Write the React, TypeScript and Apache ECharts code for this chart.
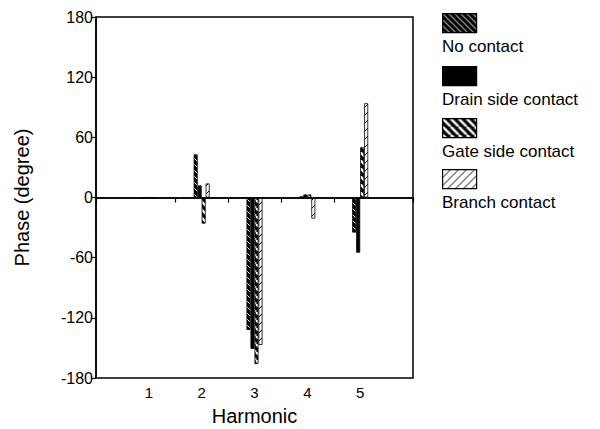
import React, { useEffect, useRef } from "react";
import * as echarts from "echarts";

const harmonics = [1, 2, 3, 4, 5];
const noContact = [0, 43, -132, 1, -35];
const drainSide = [0, 12, -151, 3, -55];
const gateSide = [0, -26, -166, 3, 50];
const branchContact = [0, 14, -147, -21, 94];
const seriesNames = ["No contact", "Drain side contact", "Gate side contact", "Branch contact"];
const xTickValues = [0, 1.5, 2.5, 3.5, 4.5, 6];
const FONT = "'Liberation Sans', Arial, Helvetica, sans-serif";

function makePattern(bg: string, fg: string, size: number, lw: number, dir: "back" | "fwd") {
  const c = document.createElement("canvas");
  c.width = size;
  c.height = size;
  const ctx = c.getContext("2d")!;
  ctx.fillStyle = bg;
  ctx.fillRect(0, 0, size, size);
  ctx.strokeStyle = fg;
  ctx.lineWidth = lw;
  for (let k = -1; k <= 1; k++) {
    ctx.beginPath();
    if (dir === "back") {
      ctx.moveTo(k * size, 0);
      ctx.lineTo(k * size + size, size);
    } else {
      ctx.moveTo(k * size, size);
      ctx.lineTo(k * size + size, 0);
    }
    ctx.stroke();
  }
  return { image: c, repeat: "repeat" as const };
}

export default function App() {
  const ref = useRef<HTMLDivElement>(null);
  useEffect(() => {
    if (!ref.current) return;
    const chart = echarts.init(ref.current, undefined, { renderer: "svg" });
    const fills = [
      makePattern("#000", "#fff", 6, 1, "back"),
      "#000",
      makePattern("#000", "#fff", 8, 2.5, "back"),
      makePattern("#fff", "#000", 8, 1, "fwd"),
    ];
    const datasets = [noContact, drainSide, gateSide, branchContact];
    const series: any[] = datasets.map((vals, i) => ({
      type: "bar",
      name: seriesNames[i],
      data: harmonics.map((h, j) => [h, vals[j]]),
      barWidth: 4,
      barGap: "0%",
      itemStyle: { color: fills[i], borderColor: "#000", borderWidth: 0.8 },
      ...(i === 0
        ? {
            markLine: {
              silent: true,
              symbol: ["none", "none"],
              label: { show: false },
              lineStyle: { color: "#000", width: 1.5, type: "solid" },
              data: [{ yAxis: 0 }],
            },
          }
        : {}),
    }));

    const legendTextY = [47, 100, 152, 203];
    const graphics: any[] = [];
    seriesNames.forEach((name, i) => {
      graphics.push({
        type: "rect",
        left: 442,
        top: legendTextY[i] - 34,
        shape: { width: 34, height: 19 },
        style: { fill: fills[i], stroke: "#000", lineWidth: 1.2 },
      });
      graphics.push({
        type: "text",
        left: 442,
        top: legendTextY[i] - 9,
        style: { text: name, fill: "#000", font: `17px ${FONT}` },
      });
    });

    chart.setOption({
      animation: false,
      backgroundColor: "#fff",
      grid: {
        left: 96,
        right: 187,
        top: 17,
        bottom: 51,
        outerBoundsMode: "none",
        containLabel: false,
        show: true,
        borderColor: "#000",
        borderWidth: 1.5,
        backgroundColor: "transparent",
      },
      xAxis: {
        type: "value",
        min: 0,
        max: 6,
        name: "Harmonic",
        nameLocation: "middle",
        nameGap: 28,
        nameTextStyle: { fontFamily: FONT, fontSize: 20, color: "#000" },
        axisLine: { show: true, lineStyle: { color: "#000", width: 1.5 } },
        axisTick: { show: true, length: 5, customValues: xTickValues, lineStyle: { color: "#000", width: 1.2 } },
        axisLabel: {
          customValues: harmonics,
          color: "#000",
          fontFamily: FONT,
          fontSize: 15,
          margin: 7,
          formatter: (v: number) => String(v),
        },
        splitLine: { show: false },
      },
      yAxis: {
        type: "value",
        min: -180,
        max: 180,
        interval: 60,
        name: "Phase (degree)",
        nameLocation: "middle",
        nameGap: 64,
        nameTextStyle: { fontFamily: FONT, fontSize: 20, color: "#000" },
        axisLine: { show: true, lineStyle: { color: "#000", width: 1.5 } },
        axisTick: { show: true, length: 5, lineStyle: { color: "#000", width: 1.2 } },
        axisLabel: { color: "#000", fontFamily: FONT, fontSize: 16, margin: 3 },
        splitLine: { show: false },
      },
      series,
      graphic: graphics,
    });
    return () => chart.dispose();
  }, []);
  return <div ref={ref} style={{ width: 600, height: 429, position: "absolute", left: 0, top: 0 }} />;
}
